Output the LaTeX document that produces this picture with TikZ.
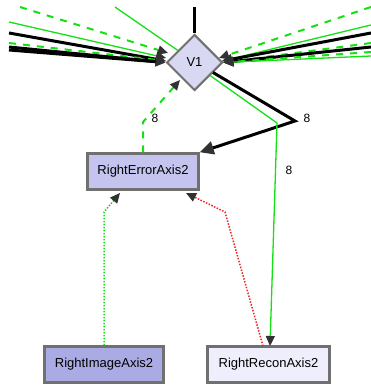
\documentclass[tikz,border=0pt]{standalone}
\usepackage{fontspec}
\setmainfont{Liberation Sans}
\usetikzlibrary{shapes.geometric,arrows.meta}

\definecolor{edgegreen}{RGB}{20,225,20}
\definecolor{edgered}{RGB}{235,40,40}
\definecolor{bordergray}{RGB}{112,112,112}
\definecolor{tipgray}{RGB}{50,50,50}
\definecolor{fillvone}{RGB}{216,216,242}
\definecolor{fillerror}{RGB}{196,196,238}
\definecolor{fillimage}{RGB}{170,170,228}
\definecolor{fillrecon}{RGB}{238,238,252}

\tikzset{
  tip/.style={-{Triangle[length=10pt,width=9pt,color=tipgray,fill=tipgray]}},
  bigtip/.style={-{Triangle[length=14pt,width=13pt,color=tipgray,fill=tipgray]}},
  boxnode/.style={draw=bordergray, line width=2.5pt, rectangle, inner sep=0pt,
    minimum height=36pt, font=\fontsize{13}{15}\selectfont},
  vnode/.style={draw=bordergray, line width=2pt, diamond, aspect=1, inner sep=0pt,
    minimum width=56pt, minimum height=56pt, fill=fillvone,
    font=\fontsize{13}{15}\selectfont},
  lbl/.style={font=\fontsize{12}{14}\selectfont, inner sep=0pt},
  thickblack/.style={line width=3pt, black},
  thingreen/.style={line width=1.3pt, edgegreen},
  dashgreen/.style={line width=2pt, edgegreen, dash pattern=on 7pt off 7pt},
  dotgreen/.style={line width=1.5pt, edgegreen, dash pattern=on 1.5pt off 1.5pt},
  dotred/.style={line width=1.5pt, edgered, dash pattern=on 1.5pt off 1.5pt},
}

\begin{document}
\begin{tikzpicture}[x=1pt, y=-1pt]
\path[use as bounding box] (0,0) rectangle (371,385);

% nodes
\node[vnode] (v1) at (194.5,62.5) {V1};
\node[boxnode, fill=fillerror, minimum width=111pt] (err) at (143,171.5) {RightErrorAxis2};
\node[boxnode, fill=fillimage, minimum width=119pt] (img) at (104,364.5) {RightImageAxis2};
\node[boxnode, fill=fillrecon, minimum width=122pt] (rec) at (268.5,364.5) {RightReconAxis2};

% loose ends of edges leaving the visible area
\coordinate (top) at (194.5,7);
\coordinate (la) at (20,7);
\coordinate (lb) at (9,22);
\coordinate (lc) at (9,33);
\coordinate (ld) at (9,43);
\coordinate (le) at (9,47);
\coordinate (lf) at (9,50);
\coordinate (lg) at (115,7);
\coordinate (ra) at (371,7);
\coordinate (rb) at (371,25);
\coordinate (rc) at (371,33);
\coordinate (rd) at (371,43);
\coordinate (re) at (371,47);
\coordinate (rf) at (371,52);
\coordinate (rg) at (371,56);

% points on the diamond border
\coordinate (vw1) at (168,53);
\coordinate (vw2) at (166,58);
\coordinate (vw3) at (166,61);
\coordinate (vul) at (178,50.5);
\coordinate (ve1) at (219,58);
\coordinate (ve2) at (222,61);
\coordinate (ve3) at (223,62.5);
\coordinate (vsb) at (213,72.5);
\coordinate (vsg) at (210,75.5);
\coordinate (vsd) at (180,80);

% points on the box borders
\coordinate (errsw) at (120,193);
\coordinate (errse) at (186,193);
\coordinate (recin) at (270,346);
\coordinate (recout) at (263,346);

% bends
\coordinate (bk) at (295,121);
\coordinate (bg) at (277,123);
\coordinate (bd) at (143,122);
\coordinate (bi) at (104,212);
\coordinate (br) at (225,212);

% edges from above
\draw[thickblack] (v1.north) -- (top);
\draw[dashgreen, tip] (la) -- (vw1);
\draw[thingreen, tip] (lb) -- (vw2);
\draw[thickblack, tip] (lc) -- (vw3);
\draw[dashgreen, tip] (ld) -- (vw3);
\draw[thickblack, tip] (le) -- (v1.west);
\draw[thickblack, tip] (lf) -- (v1.west);
\draw[thingreen] (lg) -- (vul);
\draw[dashgreen, tip] (ra) -- (ve1);
\draw[thingreen, tip] (rb) -- (ve2);
\draw[thickblack, tip] (rc) -- (ve2);
\draw[dashgreen, tip] (rd) -- (ve3);
\draw[thickblack, tip] (re) -- (v1.east);
\draw[dashgreen, tip] (rf) -- (v1.east);
\draw[thingreen, tip] (rg) -- (v1.east);

% edges below V1
\draw[dashgreen, tip] (err.north) -- (bd) -- (vsd);
\node[lbl] (l1) at (155,118) {8};
\draw[thickblack, bigtip] (vsb) -- (bk) -- (err.north east);
\node[lbl] (l2) at (307,118) {8};
\draw[thingreen, tip] (vsg) -- (bg) -- (recin);
\node[lbl] (l3) at (289,170) {8};
\draw[dotgreen, tip] (img.north) -- (bi) -- (errsw);
\draw[dotred, tip] (recout) -- (br) -- (errse);
\end{tikzpicture}
\end{document}
